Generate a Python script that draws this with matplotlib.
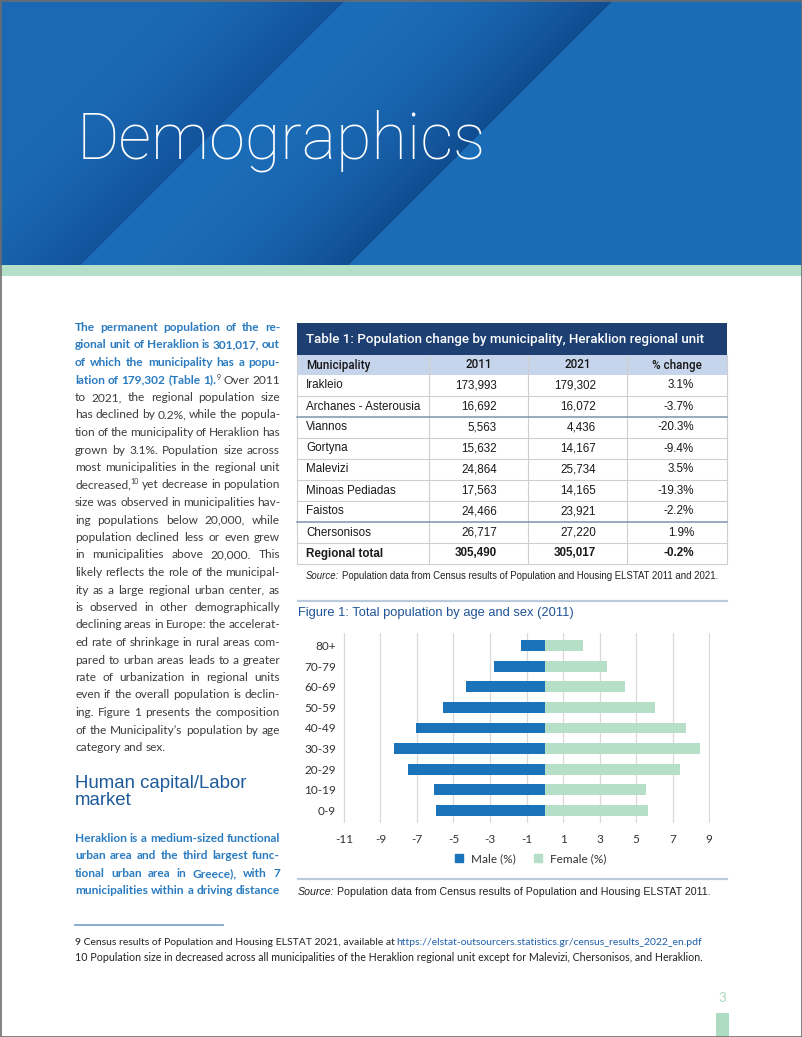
import numpy as np
import matplotlib
matplotlib.use("Agg")
import matplotlib.pyplot as plt
from matplotlib.patches import Rectangle
from matplotlib.lines import Line2D
from matplotlib import font_manager

W, H = 802, 1037

# --- data ---
age_groups = ["0-9", "10-19", "20-29", "30-39", "40-49", "50-59", "60-69", "70-79", "80+"]
male_pct = [-5.97, -6.04, -7.51, -8.24, -7.04, -5.57, -4.30, -2.78, -1.32]
female_pct = [5.66, 5.52, 7.39, 8.48, 7.73, 6.06, 4.39, 3.43, 2.12]
x_ticks = list(range(-11, 10, 2))

municipalities = ["Irakleio", "Archanes - Asterousia", "Viannos", "Gortyna", "Malevizi",
                  "Minoas Pediadas", "Faistos", "Chersonisos", "Regional total"]
pop_2011 = [173993, 16692, 5563, 15632, 24864, 17563, 24466, 26717, 305490]
pop_2021 = [179302, 16072, 4436, 14167, 25734, 14165, 23921, 27220, 305017]
pct_change = [3.1, -3.7, -20.3, -9.4, 3.5, -19.3, -2.2, 1.9, -0.2]
table_cols = ["Municipality", "2011", "2021", "% change"]

para1 = [
    [("The permanent population of the re-", "b")],
    [("gional unit of Heraklion is 301,017, out", "b")],
    [("of which the municipality has a popu-", "b")],
    [("lation of 179,302 (Table 1).", "b"), ("9", "sup"), (" Over 2011", "r")],
    [("to 2021, the regional population size", "r")],
    [("has declined by 0.2%, while the popula-", "r")],
    [("tion of the municipality of Heraklion has", "r")],
    [("grown by 3.1%. Population size across", "r")],
    [("most municipalities in the regional unit", "r")],
    [("decreased,", "r"), ("10", "sup"), (" yet decrease in population", "r")],
    [("size was observed in municipalities hav-", "r")],
    [("ing populations below 20,000, while", "r")],
    [("population declined less or even grew", "r")],
    [("in municipalities above 20,000. This", "r")],
    [("likely reflects the role of the municipal-", "r")],
    [("ity as a large regional urban center, as", "r")],
    [("is observed in other demographically", "r")],
    [("declining areas in Europe: the accelerat-", "r")],
    [("ed rate of shrinkage in rural areas com-", "r")],
    [("pared to urban areas leads to a greater", "r")],
    [("rate of urbanization in regional units", "r")],
    [("even if the overall population is declin-", "r")],
    [("ing. Figure 1 presents the composition", "r")],
    [("of the Municipality\u2019s population by age", "r")],
    [("category and sex.", "r")],
]
para2 = [
    [("Heraklion is a medium-sized functional", "b")],
    [("urban area and the third largest func-", "b")],
    [("tional urban area in Greece), with 7", "b")],
    [("municipalities within a driving distance", "b")],
]

plt.rcParams["axes.unicode_minus"] = False
BODY = "Lato"
SANS = "Liberation Sans"
names = {f.name for f in font_manager.fontManager.ttflist}
NARROW = "Liberation Sans Narrow" if "Liberation Sans Narrow" in names else BODY
GREY = "#3d3d3d"
BLUE_TXT = "#2a7bc0"
NAVY = "#1d3f72"
MALE = "#1b74ba"
FEMALE = "#b5dfc7"
MINT = "#b4dfc8"

fig = plt.figure(figsize=(W / 100, H / 100), dpi=100)
page = fig.add_axes([0, 0, 1, 1])
rend = fig.canvas.get_renderer()

# header background with diagonal shading
yy, xx = np.mgrid[0:265, 0:W]
s = xx + yy

def hexc(h):
    return np.array([int(h[i:i + 2], 16) for i in (1, 3, 5)]) / 255.0

def lerp(c1, c2, t):
    return hexc(c1) + (hexc(c2) - hexc(c1)) * t[..., None]

tA = np.clip((s - 170) / 175.0, 0, 1) ** 1.6
tB = np.clip((s - 345) / 268.0, 0, 1) ** 2.2
colA = lerp("#1b69b4", "#12529b", tA)
colB = lerp("#1c6db9", "#104c90", tB)
colC = lerp("#1a6cb7", "#1a6cb7", np.zeros_like(tA))
img = np.where((s < 345)[..., None], colA, np.where((s < 613)[..., None], colB, colC))
page.imshow(img, extent=(0, W, 265, 0), aspect="auto", interpolation="bilinear", zorder=0)
page.add_patch(Rectangle((0, 265), W, 11, color=MINT, lw=0, zorder=1))
page.add_patch(Rectangle((0.5, 0.5), W - 1, H - 1, fill=False, ec="#6e6e6e", lw=1.2, zorder=10))
page.set_xlim(0, W)
page.set_ylim(H, 0)
page.axis("off")


def fit(t, width):
    w = t.get_window_extent(rend).width
    t.set_fontsize(t.get_fontsize() * width / w)


def run(x, y, parts, fs, width=None, family=BODY, va="baseline"):
    texts = [page.text(x, y, txt, fontsize=fs, family=family, va=va, **kw) for txt, kw in parts]
    sp = fs * 100 / 72 * 0.25
    ws = [t.get_window_extent(rend).width for t in texts]
    if width:
        k = width / (sum(ws) + sp * (len(ws) - 1))
        for t in texts:
            t.set_fontsize(t.get_fontsize() * k)
        ws = [w * k for w in ws]
        sp *= k
    cx = x
    for t, w in zip(texts, ws):
        t.set_x(cx)
        cx += w + sp


t = page.text(77, 158, "Demographics", color="white", family="Roboto", fontweight=100,
              fontsize=50, va="baseline")
fit(t, 410)

# --- justified body text ---
FS = 8.6
styles = {
    "r": dict(fontsize=FS, color=GREY, family=BODY),
    "b": dict(fontsize=FS, color=BLUE_TXT, family=BODY, fontweight="bold"),
    "sup": dict(fontsize=FS * 0.6, color=GREY, family=BODY),
}


def words_of(segs):
    words = []
    for txt, st in segs:
        parts = txt.split()
        for k, p in enumerate(parts):
            if k == 0 and not txt.startswith(" ") and words:
                words[-1].append((p, st))
            else:
                words.append([(p, st)])
    return words


def paragraph(lines, y0, step, x0=75, x1=280, last_free=True):
    for i, segs in enumerate(lines):
        base = y0 + i * step
        words = words_of(segs)
        placed = []
        total = 0
        for w in words:
            items = []
            for txt, st in w:
                dy = -4 if st == "sup" else 0
                tt = page.text(0, base + dy, txt, va="baseline", **styles[st])
                ww = tt.get_window_extent(rend).width
                items.append((tt, ww))
                total += ww
            placed.append(items)
        if i == len(lines) - 1 and last_free:
            gap = FS * 100 / 72 * 0.25
        else:
            gap = (x1 - x0 - total) / max(len(placed) - 1, 1)
        cx = x0
        for items in placed:
            for tt, ww in items:
                tt.set_x(cx)
                cx += ww
            cx += gap


paragraph(para1, 331, 17.5)
paragraph(para2, 842, 17.4, last_free=False)

t = page.text(75, 788, "Human capital/Labor", color="#1f5a99", family=SANS, fontsize=13, va="baseline")
fit(t, 172)
page.text(75, 805, "market", color="#1f5a99", family=SANS, fontsize=t.get_fontsize(), va="baseline")

# --- table ---
tx0, tx1 = 297, 727
col_edges = [tx0, 429, 528, 627, tx1]
page.add_patch(Rectangle((tx0, 323), tx1 - tx0, 32, color=NAVY, lw=0))
t = page.text(306, 339, "Table 1: Population change by municipality, Heraklion regional unit",
              color="white", family="Roboto", fontweight="medium", fontsize=9.5, va="center")
fit(t, 399)
page.add_patch(Rectangle((tx0, 355), tx1 - tx0, 20, color="#c7d5ec", lw=0))
TFS = 8.4
hkw = dict(family="Roboto", fontweight="medium", fontsize=TFS, color="#151515", va="center")
page.text(306, 365, table_cols[0], **hkw)
for j in range(1, 4):
    page.text((col_edges[j] + col_edges[j + 1]) / 2, 365, table_cols[j], ha="center", **hkw)
row0, rh = 375, 21
for i, name in enumerate(municipalities):
    yc = row0 + rh * i + rh / 2
    fw = "bold" if name == "Regional total" else "normal"
    kw = dict(family=SANS, fontsize=TFS, color="#1a1a1a", va="center", fontweight=fw)
    page.text(306, yc, name, **kw)
    page.text(497, yc, f"{pop_2011[i]:,}", ha="right", **kw)
    page.text(596, yc, f"{pop_2021[i]:,}", ha="right", **kw)
    page.text(694, yc, f"{pct_change[i]:.1f}%", ha="right", **kw)
for i in range(1, len(municipalities) + 1):
    yl = row0 + rh * i
    dark = i in (2, 7)
    page.plot([tx0, tx1], [yl, yl], color="#7d93ad" if dark else "#cfcfcf",
              lw=1.1 if dark else 0.8, zorder=3)
for xe in col_edges:
    page.plot([xe, xe], [355, row0 + rh * len(municipalities)], color="#cfcfcf", lw=0.8, zorder=2)

run(306, 579, [("Source:", dict(style="italic", color="#222222")),
               ("Population data from Census results of Population and Housing ELSTAT 2011 and 2021.",
                dict(color="#222222"))], 7.5, width=412, family=SANS)

# --- figure 1 frame ---
page.plot([298, 727], [601, 601], color="#bccbdc", lw=1.6)
page.plot([298, 727], [879, 879], color="#bccbdc", lw=1.6)
t = page.text(298, 613, "Figure 1: Total population by age and sex (2011)", color="#1f5496",
              family=SANS, fontsize=9, va="center")
fit(t, 277)
run(298, 895, [("Source:", dict(style="italic", color="#222222")),
               ("Population data from Census results of Population and Housing ELSTAT 2011.",
                dict(color="#222222"))], 7.5, width=404, family=SANS)

# --- population pyramid ---
ax = fig.add_axes([343 / W, 1 - 823 / H, (710 - 343) / W, (823 - 633) / H])
yp = np.arange(len(age_groups))
ax.barh(yp, male_pct, height=0.53, color=MALE, zorder=3)
ax.barh(yp, female_pct, height=0.53, color=FEMALE, zorder=3)
ax.set_xlim(-11.05, 9.05)
ax.set_ylim(-0.6, 8.6)
ax.set_xticks(x_ticks)
ax.set_yticks(yp)
ax.set_yticklabels(age_groups)
ax.grid(axis="x", color="#d9d9d9", lw=0.9, zorder=0)
ax.tick_params(length=0, labelsize=8.5, labelcolor="#333333")
ax.tick_params(axis="x", pad=8)
ax.tick_params(axis="y", pad=5)
for lab in ax.get_xticklabels() + ax.get_yticklabels():
    lab.set_family(BODY)
for sp_ in ax.spines.values():
    sp_.set_visible(False)
ax.set_facecolor("none")
handles = [Line2D([], [], marker="s", ls="", color=MALE, markersize=5.5),
           Line2D([], [], marker="s", ls="", color=FEMALE, markersize=5.5)]
ax.legend(handles, ["Male (%)", "Female (%)"], loc="center", bbox_to_anchor=(0.5, -0.19), ncol=2,
          frameon=False, handletextpad=0.0, columnspacing=0.9, prop=dict(family=BODY, size=8.5),
          labelcolor="#333333")

# --- footnotes ---
page.plot([75, 223], [925, 925], color="#7fa7cf", lw=1.3)
run(75, 945, [("9 Census results of Population and Housing ELSTAT 2021, available at", dict(color="#222222")),
              ("https://elstat-outsourcers.statistics.gr/census_results_2022_en.pdf", dict(color="#1f5faa"))],
    7.5, width=625, family=NARROW)
run(75, 961, [("10 Population size in decreased across all municipalities of the Heraklion regional unit "
               "except for Malevizi, Chersonisos, and Heraklion.", dict(color="#222222"))],
    7.5, width=619, family=NARROW)

page.text(722, 998, "3", color="#a9d9c0", family=BODY, fontsize=9.5, ha="center", va="center")
page.add_patch(Rectangle((716, 1013), 13, 24, color="#aedcc2", lw=0))

fig.savefig("out.png", dpi=100)
